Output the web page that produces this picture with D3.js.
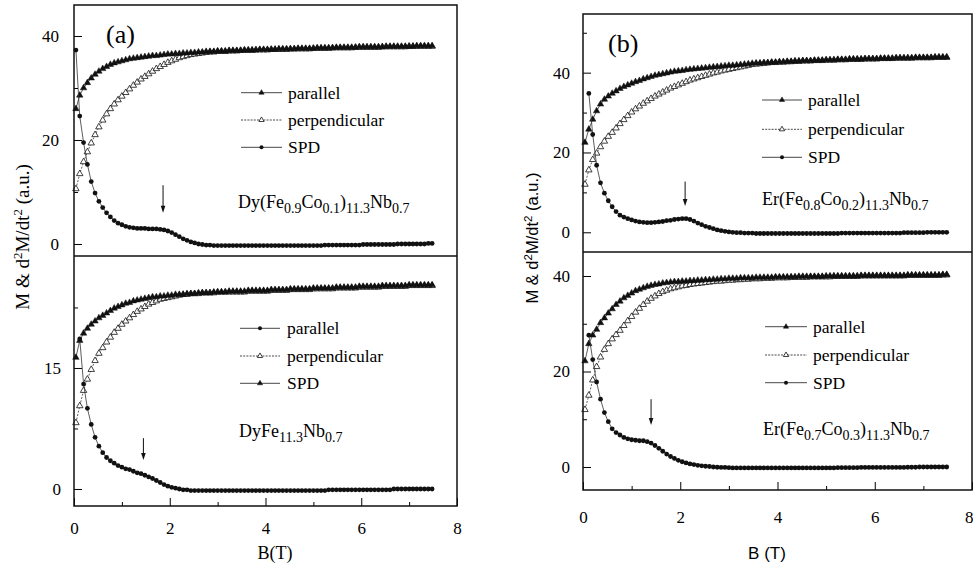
<!DOCTYPE html>
<html>
<head>
<meta charset="utf-8">
<script src="https://cdn.jsdelivr.net/npm/d3@7"></script>
<style>
  body { margin: 0; background: #fff; }
  svg text { font-family: "Liberation Serif", "Times New Roman", serif; }
  svg text.sans { font-family: "Liberation Sans", Arial, sans-serif; }
</style>
</head>
<body>
<div id="chart"></div>
<script>
// Field values (T) shared by every series
const B = [
  0.04,0.12,0.2,0.28,0.36,0.44,0.52,0.6,0.68,0.76,
  0.84,0.92,1,1.08,1.16,1.24,1.32,1.4,1.48,1.56,
  1.64,1.72,1.8,1.88,1.96,2.04,2.12,2.2,2.28,2.36,
  2.44,2.52,2.6,2.68,2.76,2.84,2.92,3,3.08,3.16,
  3.24,3.32,3.4,3.48,3.56,3.64,3.72,3.8,3.88,3.96,
  4.04,4.12,4.2,4.28,4.36,4.44,4.52,4.6,4.68,4.76,
  4.84,4.92,5,5.08,5.16,5.24,5.32,5.4,5.48,5.56,
  5.64,5.72,5.8,5.88,5.96,6.04,6.12,6.2,6.28,6.36,
  6.44,6.52,6.6,6.68,6.76,6.84,6.92,7,7.08,7.16,
  7.24,7.32,7.4,7.48
];

// (a) upper: Dy(Fe0.9Co0.1)11.3Nb0.7
const aTopParallel = [
  26.0,28.6,30.0,31.0,31.9,32.6,33.2,33.7,34.1,34.5,
  34.8,35.0,35.2,35.4,35.6,35.7,35.8,35.9,36.0,36.1,
  36.2,36.2,36.3,36.4,36.5,36.5,36.6,36.6,36.7,36.7,
  36.8,36.8,36.9,36.9,37.0,37.0,37.0,37.1,37.1,37.1,
  37.2,37.2,37.2,37.2,37.3,37.3,37.3,37.3,37.4,37.4,
  37.4,37.4,37.4,37.5,37.5,37.5,37.5,37.5,37.6,37.6,
  37.6,37.6,37.6,37.7,37.7,37.7,37.7,37.7,37.8,37.8,
  37.8,37.8,37.8,37.8,37.9,37.9,37.9,37.9,37.9,37.9,
  37.9,38.0,38.0,38.0,38.0,38.0,38.0,38.0,38.0,38.1,
  38.1,38.1,38.1,38.1
];
const aTopPerp = [
  10.6,13.5,15.8,17.7,19.4,21.0,22.5,23.8,25.0,26.0,
  26.9,27.7,28.4,29.1,29.8,30.5,31.1,31.7,32.2,32.7,
  33.2,33.7,34.1,34.5,34.9,35.2,35.5,35.8,36.0,36.2,
  36.4,36.5,36.6,36.7,36.8,36.9,36.9,37.0,37.0,37.0,
  37.1,37.1,37.1,37.2,37.2,37.2,37.2,37.3,37.3,37.3,
  37.3,37.4,37.4,37.4,37.4,37.4,37.5,37.5,37.5,37.5,
  37.5,37.5,37.6,37.6,37.6,37.6,37.6,37.7,37.7,37.7,
  37.7,37.7,37.7,37.8,37.8,37.8,37.8,37.8,37.8,37.8,
  37.9,37.9,37.9,37.9,37.9,37.9,37.9,38.0,38.0,38.0,
  38.0,38.0,38.0,38.0
];
const aTopSPD = [
  37.3,24.6,19.5,15.3,12.0,9.8,8.2,7.0,6.0,5.2,
  4.5,4.0,3.7,3.4,3.2,3.1,3.0,3.0,3.0,2.9,
  2.9,2.9,2.8,2.7,2.5,2.2,1.8,1.4,1.0,0.7,
  0.4,0.2,0.0,-0.1,-0.2,-0.2,-0.3,-0.3,-0.3,-0.3,
  -0.3,-0.3,-0.3,-0.3,-0.3,-0.3,-0.3,-0.3,-0.3,-0.3,
  -0.3,-0.3,-0.3,-0.3,-0.3,-0.3,-0.3,-0.3,-0.3,-0.3,
  -0.3,-0.3,-0.3,-0.3,-0.3,-0.2,-0.2,-0.2,-0.2,-0.2,
  -0.2,-0.2,-0.2,-0.2,-0.2,-0.1,-0.1,-0.1,-0.1,-0.1,
  -0.1,-0.1,-0.1,-0.1,0.0,0.0,0.0,0.0,0.0,0.0,
  0.0,0.0,0.1,0.1
];

// (a) lower: DyFe11.3Nb0.7 (legend pairs the dots with "parallel")
const aBotParallel = [
  null,18.6,13.0,10.0,8.0,6.4,5.3,4.5,3.9,3.5,
  3.2,2.9,2.7,2.5,2.4,2.2,2.0,1.9,1.7,1.5,
  1.3,1.05,0.8,0.55,0.35,0.2,0.1,0.0,-0.1,-0.1,
  -0.2,-0.2,-0.2,-0.2,-0.2,-0.2,-0.2,-0.2,-0.2,-0.2,
  -0.2,-0.2,-0.2,-0.2,-0.2,-0.2,-0.2,-0.2,-0.2,-0.2,
  -0.2,-0.2,-0.2,-0.2,-0.2,-0.2,-0.2,-0.2,-0.2,-0.2,
  -0.2,-0.2,-0.2,-0.2,-0.2,-0.2,-0.1,-0.1,-0.1,-0.1,
  -0.1,-0.1,-0.1,-0.1,-0.1,-0.1,-0.1,-0.1,-0.1,-0.1,
  -0.1,-0.1,-0.1,0.0,0.0,0.0,0.0,0.0,0.0,0.0,
  0.0,0.0,0.0,0.0
];
const aBotPerp = [
  8.2,10.3,12.2,13.6,14.8,15.9,16.8,17.5,18.2,18.8,
  19.4,19.9,20.4,20.8,21.2,21.6,22.0,22.3,22.6,22.9,
  23.1,23.3,23.5,23.6,23.7,23.8,23.9,24.0,24.1,24.1,
  24.2,24.2,24.2,24.3,24.3,24.3,24.3,24.4,24.4,24.4,
  24.4,24.4,24.4,24.4,24.4,24.5,24.5,24.5,24.5,24.5,
  24.5,24.6,24.6,24.6,24.6,24.6,24.7,24.7,24.7,24.7,
  24.7,24.7,24.8,24.8,24.8,24.8,24.8,24.8,24.9,24.9,
  24.9,24.9,24.9,24.9,25.0,25.0,25.0,25.0,25.0,25.0,
  25.1,25.1,25.1,25.1,25.1,25.1,25.1,25.2,25.2,25.2,
  25.2,25.2,25.2,25.2
];
const aBotSPD = [
  16.3,18.4,19.3,19.9,20.4,20.8,21.2,21.5,21.8,22.1,
  22.4,22.6,22.8,23.0,23.1,23.3,23.4,23.5,23.6,23.7,
  23.8,23.8,23.9,23.9,24.0,24.0,24.1,24.1,24.1,24.2,
  24.2,24.2,24.3,24.3,24.3,24.3,24.4,24.4,24.4,24.4,
  24.5,24.5,24.5,24.5,24.5,24.6,24.6,24.6,24.6,24.6,
  24.6,24.7,24.7,24.7,24.7,24.7,24.8,24.8,24.8,24.8,
  24.8,24.8,24.9,24.9,24.9,24.9,24.9,24.9,25.0,25.0,
  25.0,25.0,25.0,25.0,25.1,25.1,25.1,25.1,25.1,25.1,
  25.2,25.2,25.2,25.2,25.2,25.2,25.2,25.3,25.3,25.3,
  25.3,25.3,25.3,25.3
];

// (b) upper: Er(Fe0.8Co0.2)11.3Nb0.7
const bTopParallel = [
  22.5,25.8,28.3,30.4,32.1,33.3,34.1,34.8,35.4,36.0,
  36.5,36.9,37.3,37.7,38.0,38.4,38.7,39.0,39.3,39.5,
  39.7,39.9,40.1,40.3,40.4,40.5,40.7,40.8,40.9,41.0,
  41.1,41.2,41.3,41.4,41.5,41.6,41.7,41.8,41.8,41.9,
  42.0,42.1,42.2,42.3,42.4,42.4,42.5,42.5,42.6,42.6,
  42.7,42.7,42.8,42.8,42.9,42.9,43.0,43.0,43.0,43.1,
  43.1,43.1,43.2,43.2,43.2,43.3,43.3,43.3,43.4,43.4,
  43.4,43.4,43.5,43.5,43.5,43.5,43.6,43.6,43.6,43.6,
  43.7,43.7,43.7,43.7,43.7,43.8,43.8,43.8,43.8,43.8,
  43.9,43.9,43.9,43.9
];
const bTopPerp = [
  12.0,15.6,18.2,19.8,21.4,22.8,24.0,25.0,26.1,27.2,
  28.2,29.2,30.1,30.9,31.6,32.3,32.9,33.5,34.1,34.6,
  35.1,35.6,36.1,36.5,36.9,37.3,37.7,38.1,38.4,38.7,
  39.0,39.3,39.6,39.9,40.1,40.4,40.6,40.8,41.0,41.2,
  41.4,41.6,41.8,42.0,42.1,42.2,42.3,42.4,42.5,42.5,
  42.6,42.6,42.7,42.7,42.8,42.8,42.9,42.9,42.9,43.0,
  43.0,43.0,43.1,43.1,43.1,43.2,43.2,43.2,43.3,43.3,
  43.3,43.3,43.4,43.4,43.4,43.4,43.5,43.5,43.5,43.5,
  43.6,43.6,43.6,43.6,43.6,43.7,43.7,43.7,43.7,43.7,
  43.8,43.8,43.8,43.8
];
const bTopSPD = [
  null,34.8,24.5,16.8,12.4,9.8,7.9,6.4,5.2,4.3,
  3.8,3.4,3.1,2.8,2.6,2.5,2.4,2.4,2.5,2.6,
  2.7,2.9,3.0,3.2,3.3,3.4,3.4,3.2,2.8,2.3,
  1.9,1.5,1.2,0.9,0.6,0.4,0.25,0.1,0.0,-0.1,
  -0.1,-0.2,-0.2,-0.2,-0.3,-0.3,-0.3,-0.3,-0.3,-0.3,
  -0.3,-0.3,-0.3,-0.3,-0.3,-0.3,-0.3,-0.3,-0.3,-0.3,
  -0.3,-0.3,-0.3,-0.3,-0.3,-0.3,-0.2,-0.2,-0.2,-0.2,
  -0.2,-0.2,-0.2,-0.2,-0.2,-0.2,-0.2,-0.2,-0.2,-0.2,
  -0.2,-0.2,-0.1,-0.1,-0.1,-0.1,-0.1,-0.1,0.0,0.0,
  0.0,0.0,0.0,0.0
];

// (b) lower: Er(Fe0.7Co0.3)11.3Nb0.7
const bBotParallel = [
  22.2,25.8,27.6,28.8,30.2,31.2,32.2,33.1,34.0,34.7,
  35.4,35.9,36.4,36.9,37.2,37.5,37.8,38.0,38.2,38.3,
  38.5,38.6,38.7,38.8,38.8,38.9,38.9,39.0,39.0,39.1,
  39.1,39.2,39.2,39.3,39.3,39.4,39.4,39.5,39.5,39.5,
  39.6,39.6,39.6,39.6,39.7,39.7,39.7,39.7,39.7,39.8,
  39.8,39.8,39.8,39.8,39.8,39.9,39.9,39.9,39.9,39.9,
  39.9,39.9,40.0,40.0,40.0,40.0,40.0,40.0,40.0,40.0,
  40.0,40.1,40.1,40.1,40.1,40.1,40.1,40.1,40.1,40.1,
  40.1,40.1,40.1,40.2,40.2,40.2,40.2,40.2,40.2,40.2,
  40.2,40.2,40.3,40.3
];
const bBotPerp = [
  12.0,15.0,18.2,21.0,23.0,24.6,25.8,26.8,27.7,28.6,
  29.6,30.6,31.5,32.4,33.2,34.0,34.7,35.3,35.8,36.3,
  36.7,37.0,37.3,37.5,37.7,37.9,38.0,38.2,38.3,38.4,
  38.5,38.6,38.7,38.8,38.9,38.9,39.0,39.1,39.1,39.2,
  39.2,39.3,39.3,39.4,39.4,39.4,39.5,39.5,39.5,39.6,
  39.6,39.6,39.6,39.7,39.7,39.7,39.7,39.7,39.8,39.8,
  39.8,39.8,39.8,39.8,39.9,39.9,39.9,39.9,39.9,39.9,
  39.9,40.0,40.0,40.0,40.0,40.0,40.0,40.0,40.0,40.0,
  40.0,40.0,40.0,40.1,40.1,40.1,40.1,40.1,40.1,40.1,
  40.1,40.1,40.2,40.2
];
const bBotSPD = [
  null,27.6,22.5,17.8,14.2,11.4,9.5,8.0,7.2,6.7,
  6.2,5.9,5.7,5.6,5.5,5.5,5.3,5.0,4.5,3.9,
  3.3,2.7,2.2,1.8,1.4,1.1,0.85,0.65,0.5,0.35,
  0.25,0.15,0.1,0.0,-0.05,-0.1,-0.1,-0.15,-0.2,-0.2,
  -0.2,-0.2,-0.2,-0.2,-0.2,-0.2,-0.2,-0.2,-0.2,-0.2,
  -0.2,-0.2,-0.2,-0.2,-0.2,-0.2,-0.2,-0.2,-0.2,-0.2,
  -0.2,-0.2,-0.2,-0.2,-0.2,-0.15,-0.15,-0.15,-0.15,-0.15,
  -0.15,-0.1,-0.1,-0.1,-0.1,-0.1,-0.1,-0.1,-0.1,-0.1,
  -0.1,-0.1,-0.1,-0.05,-0.05,-0.05,0.0,0.0,0.0,0.0,
  0.0,0.0,0.0,0.0
];

const legendLabels = ["parallel", "perpendicular", "SPD"];
const xTicks = [0, 2, 4, 6, 8];
const xMinor = [1, 3, 5, 7];

// Arrow annotations: field, upper and lower end (in data units)
const arrowA1 = [1.86, 11.3, 6.0];
const arrowA2 = [1.45, 6.3, 3.6];
const arrowB1 = [2.1, 12.7, 6.6];
const arrowB2 = [1.4, 14.2, 8.8];

const svg = d3.select("#chart").append("svg")
    .attr("width", 973)
    .attr("height", 571);

// Text with sub/superscripts: parts = [[text, "sub"|"sup"|undefined], ...]
function richText(sel, parts, size, small) {
  let cur = 0;
  parts.forEach(([t, kind]) => {
    const want = kind === "sub" ? size * 0.3 : kind === "sup" ? -size * 0.38 : 0;
    sel.append("tspan")
      .attr("dy", want - cur)
      .style("font-size", (kind ? small : size) + "px")
      .text(t);
    cur = want;
  });
  return sel;
}

const subplots = [
  { // (a) upper
    xr: [74, 457], yr: [256, 5], ydom: [-2.31, 45.96],
    major: [0, 20, 40], minor: [10, 30], pad: 15,
    series: [
      {values: aTopPerp, mark: "open", dash: "2,1.5"},
      {values: aTopParallel, mark: "tri"},
      {values: aTopSPD, mark: "dot"}
    ],
    legendMarks: ["tri", "open", "dot"],
    legend: {x0: 241, x1: 282, tx: 288, ys: [92.7, 120, 147.3]},
    formula: {x: 238, y: 208, parts: [["Dy(Fe"],["0.9","sub"],["Co"],["0.1","sub"],[")"],["11.3","sub"],["Nb"],["0.7","sub"]]},
    arrow: arrowA1
  },
  { // (a) lower
    xr: [74, 457], yr: [506, 256], ydom: [-2.11, 28.88],
    major: [0, 15], minor: [7.5, 22.5], pad: 13, xAxis: true, xPad: 16,
    series: [
      {values: aBotPerp, mark: "open", dash: "2,1.5"},
      {values: aBotSPD, mark: "tri"},
      {values: aBotParallel, mark: "dot"}
    ],
    legendMarks: ["dot", "open", "tri"],
    legend: {x0: 240, x1: 280, tx: 287, ys: [328.3, 356, 383.3]},
    formula: {x: 239, y: 437, parts: [["DyFe"],["11.3","sub"],["Nb"],["0.7","sub"]]},
    arrow: arrowA2
  },
  { // (b) upper
    xr: [583, 972], yr: [252, 14], ydom: [-4.94, 54.7],
    major: [0, 20, 40], minor: [10, 30, 50], pad: 13,
    series: [
      {values: bTopPerp, mark: "open", dash: "2,1.5"},
      {values: bTopParallel, mark: "tri"},
      {values: bTopSPD, mark: "dot"}
    ],
    legendMarks: ["tri", "open", "dot"],
    legend: {x0: 762, x1: 802, tx: 808, ys: [100, 129.3, 157.3]},
    formula: {x: 762, y: 205, parts: [["Er(Fe"],["0.8","sub"],["Co"],["0.2","sub"],[")"],["11.3","sub"],["Nb"],["0.7","sub"]]},
    arrow: arrowB1
  },
  { // (b) lower
    xr: [583, 972], yr: [490, 252], ydom: [-4.82, 45.03],
    major: [0, 20, 40], minor: [10, 30], pad: 13, xAxis: true, xPad: 21, lastEnd: true,
    series: [
      {values: bBotPerp, mark: "open", dash: "2,1.5"},
      {values: bBotParallel, mark: "tri"},
      {values: bBotSPD, mark: "dot"}
    ],
    legendMarks: ["tri", "open", "dot"],
    legend: {x0: 765, x1: 807, tx: 813, ys: [326.7, 355, 382.7]},
    formula: {x: 763, y: 435, parts: [["Er(Fe"],["0.7","sub"],["Co"],["0.3","sub"],[")"],["11.3","sub"],["Nb"],["0.7","sub"]]},
    arrow: arrowB2
  }
];

const triPath = d3.symbol().type(d3.symbolTriangle).size(18)();
const triSmall = d3.symbol().type(d3.symbolTriangle).size(12)();

function drawMark(g, kind, small) {
  if (kind === "dot") {
    g.append("circle").attr("r", small ? 2 : 2.4).attr("fill", "#111");
  } else if (kind === "tri") {
    g.append("path").attr("d", small ? triSmall : triPath).attr("fill", "#111")
      .attr("stroke", "#111").attr("stroke-width", 0.5);
  } else {
    g.append("path").attr("d", small ? triSmall : triPath)
      .attr("fill", "#fff").attr("stroke", "#111").attr("stroke-width", 0.8);
  }
}

subplots.forEach(p => {
  const x = d3.scaleLinear().domain([0, 8]).range(p.xr);
  const y = d3.scaleLinear().domain(p.ydom).range(p.yr);
  const g = svg.append("g");

  // y ticks pointing inward
  g.append("g")
      .attr("transform", `translate(${p.xr[0]},0)`)
      .call(d3.axisLeft(y).tickValues(p.minor).tickSize(-4).tickFormat(""))
      .call(a => a.select(".domain").remove());
  g.append("g")
      .attr("transform", `translate(${p.xr[0]},0)`)
      .call(d3.axisLeft(y).tickValues(p.major).tickSize(-8).tickPadding(p.pad))
      .call(a => a.select(".domain").remove())
      .call(a => a.selectAll("text").style("font-size", "17px"));

  if (p.xAxis) {
    g.append("g")
        .attr("transform", `translate(0,${p.yr[0]})`)
        .call(d3.axisBottom(x).tickValues(xMinor).tickSize(-4).tickFormat(""))
        .call(a => a.select(".domain").remove());
    g.append("g")
        .attr("transform", `translate(0,${p.yr[0]})`)
        .call(d3.axisBottom(x).tickValues(xTicks).tickSize(-8).tickPadding(p.xPad))
        .call(a => a.select(".domain").remove())
        .call(a => a.selectAll("text").style("font-size", "17px")
          .attr("text-anchor", d => (p.lastEnd && d === 8) ? "end" : "middle")
          .attr("dx", d => (p.lastEnd && d === 8) ? 1 : 0));
  }

  const line = d3.line()
      .defined(d => d[1] != null)
      .x(d => x(d[0]))
      .y(d => y(d[1]));

  p.series.forEach(s => {
    const pts = B.map((b, i) => [b, s.values[i]]);
    g.append("path")
        .attr("d", line(pts))
        .attr("fill", "none")
        .attr("stroke", "#333")
        .attr("stroke-width", 0.8)
        .attr("stroke-dasharray", s.dash || null);
    g.append("g").selectAll("g")
      .data(pts.filter(d => d[1] != null))
      .join("g")
        .attr("transform", d => `translate(${x(d[0])},${y(d[1])})`)
        .each(function() { drawMark(d3.select(this), s.mark, false); });
  });

  // legend
  const lg = g.append("g");
  legendLabels.forEach((lab, i) => {
    const ly = p.legend.ys[i];
    lg.append("line")
        .attr("x1", p.legend.x0).attr("x2", p.legend.x1)
        .attr("y1", ly).attr("y2", ly)
        .attr("stroke", "#333").attr("stroke-width", 0.9)
        .attr("stroke-dasharray", p.legendMarks[i] === "open" ? "2,1.2" : null);
    drawMark(lg.append("g").attr("transform", `translate(${(p.legend.x0 + p.legend.x1) / 2},${ly})`), p.legendMarks[i], true);
    lg.append("text")
        .attr("x", p.legend.tx).attr("y", ly + 6)
        .style("font-size", "17.5px")
        .text(lab);
  });

  // compound name
  richText(g.append("text").attr("x", p.formula.x).attr("y", p.formula.y), p.formula.parts, 18, 14);

  // arrow marking the transition field
  const [ab, a0, a1] = p.arrow;
  const ax = x(ab), ay0 = y(a0), ay1 = y(a1);
  g.append("line")
      .attr("x1", ax).attr("x2", ax).attr("y1", ay0).attr("y2", ay1 - 5)
      .attr("stroke", "#111").attr("stroke-width", 1);
  g.append("path")
      .attr("d", `M${ax - 2.3},${ay1 - 7}L${ax + 2.3},${ay1 - 7}L${ax},${ay1}Z`)
      .attr("fill", "#111");
});

// frames
svg.append("rect").attr("x", 74).attr("y", 5).attr("width", 383).attr("height", 501)
    .attr("fill", "none").attr("stroke", "#111").attr("stroke-width", 1.5);
svg.append("line").attr("x1", 74).attr("x2", 457).attr("y1", 256).attr("y2", 256)
    .attr("stroke", "#111").attr("stroke-width", 1.5);
svg.append("rect").attr("x", 583).attr("y", 14).attr("width", 389).attr("height", 476)
    .attr("fill", "none").attr("stroke", "#111").attr("stroke-width", 1.5);
svg.append("line").attr("x1", 583).attr("x2", 972).attr("y1", 252).attr("y2", 252)
    .attr("stroke", "#111").attr("stroke-width", 1.5);

// panel tags
svg.append("text").attr("x", 106).attr("y", 43).style("font-size", "26px").text("(a)");
svg.append("text").attr("x", 608).attr("y", 52).style("font-size", "26px").text("(b)");

// axis titles
svg.append("text").attr("x", 275).attr("y", 559).attr("text-anchor", "middle")
    .style("font-size", "18px").text("B(T)");
svg.append("text").attr("class", "sans").attr("x", 767).attr("y", 559).attr("text-anchor", "middle")
    .style("font-size", "17px").text("B (T)");

const yTitle = [["M & d"], ["2", "sup"], ["M/dt"], ["2", "sup"], [" (a.u.)"]];
richText(svg.append("text")
    .attr("transform", "translate(29,237) rotate(-90)")
    .attr("text-anchor", "middle"), yTitle, 19, 13);
richText(svg.append("text")
    .attr("class", "sans")
    .attr("transform", "translate(538,238) rotate(-90)")
    .attr("text-anchor", "middle"), yTitle, 16.5, 11.5);
</script>
</body>
</html>
